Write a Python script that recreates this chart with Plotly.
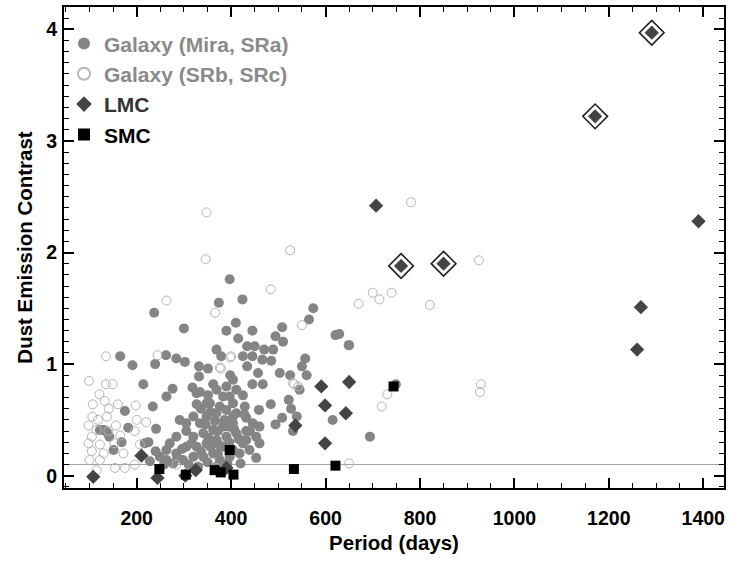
import plotly.graph_objects as go

# Galaxy (Mira, SRa) - filled grey circles
mira_period = [397, 374, 424, 237, 300, 410, 390, 445, 508, 565, 574, 621, 649, 494, 510, 415, 434, 450, 470, 489,
               369, 379, 425, 445, 466, 485, 557, 165, 262, 284, 302, 191, 239, 332, 351, 398, 434, 457, 550, 560,
               503, 525, 332, 214, 445, 467, 545, 318, 276, 263, 362, 404, 390, 334, 351, 369, 411, 425, 383, 234,
               175, 327, 355, 404, 429, 459, 484, 522, 527, 539, 508, 494, 531, 615, 182, 241, 130, 142, 137, 122,
               151, 168, 217, 320, 334, 348, 369, 390, 411, 432, 446, 460, 453, 460, 453, 404, 383, 362, 341, 320,
               305, 284, 270, 263, 249, 228, 284, 305, 327, 348, 369, 390, 411, 432, 425, 404, 383, 362, 341, 320,
               298, 277, 376, 397, 418, 439, 432, 369, 263, 327, 305, 291, 348, 376, 397, 404, 650, 694, 749, 629,
               397, 336, 356, 346, 366, 386, 406, 416, 396, 376, 356, 336, 316, 296, 286, 310, 330, 350, 372, 392,
               420, 440, 428, 372, 352, 395, 258, 240, 225]
mira_contrast = [1.76, 1.55, 1.58, 1.46, 1.32, 1.37, 1.30, 1.30, 1.33, 1.40, 1.50, 1.26, 1.17, 1.25, 1.20, 1.23, 1.16, 1.16, 1.13, 1.13,
                 1.13, 1.07, 1.07, 1.07, 1.04, 1.03, 1.05, 1.07, 1.08, 1.05, 1.02, 0.99, 1.00, 0.98, 0.96, 0.90, 0.98, 0.92, 0.98, 0.90,
                 0.92, 0.90, 0.89, 0.82, 0.82, 0.82, 0.77, 0.79, 0.78, 0.71, 0.82, 0.86, 0.80, 0.75, 0.72, 0.77, 0.77, 0.72, 0.71, 0.62,
                 0.58, 0.64, 0.65, 0.65, 0.62, 0.59, 0.64, 0.68, 0.60, 0.53, 0.52, 0.46, 0.40, 0.50, 0.43, 0.42, 0.41, 0.35, 0.39, 0.41,
                 0.23, 0.30, 0.29, 0.53, 0.47, 0.53, 0.56, 0.59, 0.56, 0.52, 0.47, 0.44, 0.35, 0.29, 0.16, 0.47, 0.44, 0.41, 0.38, 0.35,
                 0.40, 0.35, 0.29, 0.23, 0.17, 0.13, 0.20, 0.26, 0.26, 0.29, 0.32, 0.35, 0.38, 0.40, 0.29, 0.23, 0.26, 0.20, 0.17, 0.17,
                 0.14, 0.11, 0.14, 0.17, 0.20, 0.23, 0.32, 0.08, 0.14, 0.74, 0.47, 0.50, 0.65, 0.62, 0.71, 0.53, 1.17, 0.35, 0.82, 1.27,
                 0.45, 0.60, 0.57, 0.46, 0.49, 0.50, 0.42, 0.33, 0.30, 0.27, 0.26, 0.22, 0.29, 0.24, 0.16, 0.10, 0.08, 0.12, 0.19, 0.11,
                 0.11, 0.40, 0.55, 0.40, 0.34, 0.44, 0.10, 0.22, 0.30]

# Galaxy (SRb, SRc) - open grey circles
srb_period = [348, 346, 525, 484, 263, 366, 550, 135, 244, 398, 378, 99, 135, 149, 121, 107, 132, 160, 198, 141,
              106, 118, 137, 156, 200, 220, 98, 115, 140, 105, 165, 196, 98, 122, 153, 207, 105, 130, 172, 100,
              122, 154, 175, 196, 115, 531, 542, 781, 925, 700, 714, 740, 670, 821, 929, 927, 731, 719, 650, 369,
              400, 376, 534, 284]
srb_contrast = [2.36, 1.94, 2.02, 1.67, 1.57, 1.46, 1.35, 1.07, 1.08, 1.06, 0.96, 0.85, 0.82, 0.82, 0.73, 0.64, 0.67, 0.64, 0.63, 0.60,
                0.53, 0.50, 0.53, 0.45, 0.50, 0.48, 0.45, 0.41, 0.40, 0.35, 0.36, 0.40, 0.29, 0.28, 0.29, 0.28, 0.22, 0.20, 0.20, 0.14,
                0.14, 0.07, 0.07, 0.10, 0.05, 0.83, 0.80, 2.45, 1.93, 1.64, 1.58, 1.64, 1.54, 1.53, 0.82, 0.75, 0.73, 0.62, 0.11, 0.07,
                1.07, 0.97, 0.82, 0.10]

# LMC - dark diamonds
lmc_period = [108, 210, 244, 303, 325, 390, 536, 591, 599, 599, 643, 650, 707, 760, 850, 1390, 1268, 1260, 1171, 1291]
lmc_contrast = [-0.01, 0.18, -0.02, 0.00, 0.05, 0.07, 0.45, 0.80, 0.63, 0.29, 0.56, 0.84, 2.42, 1.88, 1.90, 2.28, 1.51, 1.13, 3.22, 3.97]

# LMC stars highlighted with an outer diamond frame
framed_period = [760, 850, 1171, 1291]
framed_contrast = [1.88, 1.90, 3.22, 3.97]

# SMC - black squares
smc_period = [248, 304, 365, 378, 397, 405, 533, 621, 744]
smc_contrast = [0.06, 0.01, 0.05, 0.03, 0.23, 0.01, 0.06, 0.09, 0.80]

THRESHOLD = 0.1
X_TICKS = [200, 400, 600, 800, 1000, 1200, 1400]
Y_TICKS = [0, 1, 2, 3, 4]

FONT = "Liberation Sans, Arial, Helvetica, sans-serif"

fig = go.Figure()
fig.add_trace(go.Scatter(
    x=mira_period, y=mira_contrast, mode="markers",
    name='<span style="color:#8a8a8a">Galaxy (Mira, SRa)</span>',
    marker=dict(symbol="circle", size=10, color="#858585", line=dict(width=0)),
))
fig.add_trace(go.Scatter(
    x=srb_period, y=srb_contrast, mode="markers",
    name='<span style="color:#8a8a8a">Galaxy (SRb, SRc)</span>',
    marker=dict(symbol="circle-open", size=9, color="#b5b5b5", line=dict(width=1, color="#b5b5b5")),
))
fig.add_trace(go.Scatter(
    x=framed_period, y=framed_contrast, mode="markers", showlegend=False,
    marker=dict(symbol="diamond", size=19, color="white", line=dict(width=1.6, color="#222222")),
))
fig.add_trace(go.Scatter(
    x=lmc_period, y=lmc_contrast, mode="markers",
    name='<span style="color:#333333">LMC</span>',
    marker=dict(symbol="diamond", size=11, color="#444444", line=dict(width=0)),
))
fig.add_trace(go.Scatter(
    x=smc_period, y=smc_contrast, mode="markers",
    name='<span style="color:#000000">SMC</span>',
    marker=dict(symbol="square", size=10, color="#000000", line=dict(width=0)),
))

fig.add_shape(type="line", xref="paper", x0=0, x1=1, yref="y", y0=THRESHOLD, y1=THRESHOLD,
              line=dict(color="#a0a0a0", width=1), layer="below")

axis_common = dict(
    showline=True, linecolor="black", linewidth=2, mirror="ticks",
    ticks="inside", ticklen=10, tickwidth=1.5, tickcolor="black",
    showgrid=False, zeroline=False,
    tickfont=dict(family=FONT, size=19.5, color="black", weight="bold"),
)

fig.update_xaxes(
    range=[46, 1444], tickvals=X_TICKS, ticktext=[str(v) for v in X_TICKS],
    minor=dict(dtick=50, ticks="inside", ticklen=5, tickwidth=1.2, tickcolor="black"),
    title=dict(text="Period (days)", font=dict(family=FONT, size=20.5, color="black", weight="bold"), standoff=7),
    ticklabelstandoff=12,
    **axis_common,
)
fig.update_yaxes(
    range=[-0.11, 4.2], tickvals=Y_TICKS, ticktext=[str(v) for v in Y_TICKS],
    minor=dict(dtick=0.1, ticks="inside", ticklen=5, tickwidth=1.2, tickcolor="black"),
    title=dict(text="Dust Emission Contrast", font=dict(family=FONT, size=20.5, color="black", weight="bold"), standoff=8),
    ticklabelstandoff=1,
    **axis_common,
)

fig.update_layout(
    width=729, height=564,
    margin=dict(l=64, r=3, t=7, b=76),
    paper_bgcolor="white", plot_bgcolor="white",
    showlegend=True,
    legend=dict(x=0.0, y=0.966, xanchor="left", yanchor="top",
                bgcolor="rgba(0,0,0,0)", borderwidth=0,
                font=dict(family=FONT, size=21, weight="bold"),
                itemsizing="constant", tracegroupgap=0),
)

fig.write_html("out.html", config={"displayModeBar": False},
               post_script="document.body.style.margin='0';document.body.style.overflow='hidden';")
